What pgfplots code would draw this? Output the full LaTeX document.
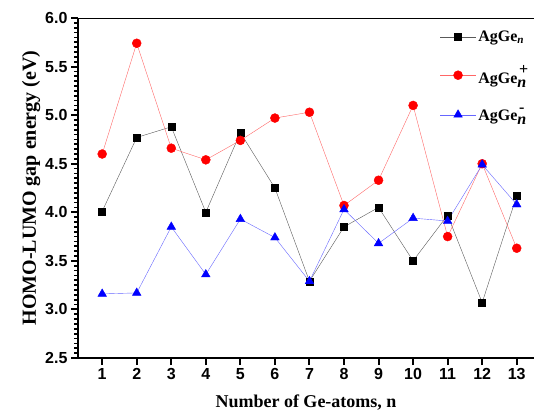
\documentclass[border=0pt]{standalone}
\usepackage{fontspec}
\setmainfont{Liberation Serif}
\setsansfont{Liberation Sans}
\usepackage{pgfplots}
\pgfplotsset{compat=1.18}

\begin{document}
\begin{tikzpicture}
\path[use as bounding box] (-78pt,-60pt) rectangle (456pt,358pt);
\begin{axis}[
  scale only axis, width=456pt, height=340pt,
  xmin=0.3, xmax=13.5, ymin=2.5, ymax=6.0,
  axis x line*=bottom, axis y line*=left,
  axis line style={line width=2pt},
  xtick={1,...,13},
  ytick={2.5,3.0,...,6.0},
  minor y tick num=9,
  tick align=outside,
  major tick length=7pt, minor tick length=4pt,
  every tick/.style={black, line width=2pt},
  minor tick style={line width=1.6pt},
  ticklabel style={font=\fontsize{16}{19}\selectfont\sffamily\bfseries},
  /pgf/number format/assume math mode=true,
  yticklabel style={/pgf/number format/.cd, fixed, fixed zerofill, precision=1},
  xlabel={Number of Ge-atoms, n},
  ylabel={HOMO-LUMO gap energy (eV)},
  xlabel style={font=\fontsize{18}{21}\selectfont\bfseries, yshift=-8pt},
  ylabel style={font=\fontsize{20}{23}\selectfont\bfseries, yshift=-2pt},
  legend style={draw=none, fill=none, at={(1.0,0.975)}, anchor=north east,
    font=\fontsize{16}{19}\selectfont\bfseries, row sep=19pt,
    /tikz/every even column/.append style={column sep=3pt}},
  legend cell align=left,
  legend image code/.code={
    \draw[mark repeat=2, mark phase=2] plot coordinates {(0pt,0pt) (18pt,0pt) (36pt,0pt)};},
]
\addplot[draw=black!65, thin, mark=square*, mark size=3.5pt,
  mark options={draw=black, fill=black}] coordinates {
  (1,4.01) (2,4.77) (3,4.88) (4,4.00) (5,4.82) (6,4.25) (7,3.29)
  (8,3.85) (9,4.05) (10,3.50) (11,3.97) (12,3.07) (13,4.17)};
\addlegendentry{AgGe\textsubscript{\textit{n}}}
\addplot[draw=red!60, thin, mark=*, mark size=4.5pt,
  mark options={draw=red, fill=red}] coordinates {
  (1,4.60) (2,5.74) (3,4.66) (4,4.54) (5,4.74) (6,4.97) (7,5.03)
  (8,4.07) (9,4.33) (10,5.10) (11,3.75) (12,4.50) (13,3.63)};
\addlegendentry{AgGe$_{\textit{n}}^{\,\raisebox{2pt}{\textbf{+}}}$}
\addplot[draw=blue!60, thin, mark=triangle*, mark size=5pt,
  mark options={draw=blue, fill=blue}] coordinates {
  (1,3.16) (2,3.17) (3,3.85) (4,3.36) (5,3.93) (6,3.74) (7,3.29)
  (8,4.03) (9,3.68) (10,3.94) (11,3.91) (12,4.49) (13,4.08)};
\addlegendentry{AgGe$_{\textit{n}}^{\,\raisebox{2pt}{\textbf{-}}}$}
\draw[line width=2pt] (rel axis cs:0,1) -- (rel axis cs:1,1);
\end{axis}
\end{tikzpicture}
\end{document}
